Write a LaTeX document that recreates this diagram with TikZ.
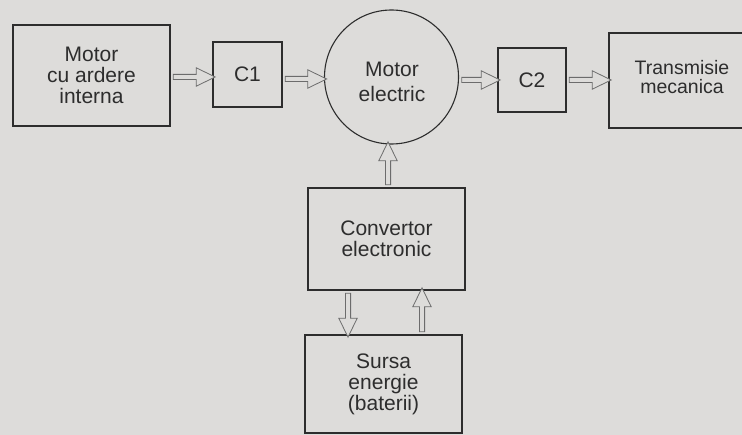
\documentclass[tikz,border=0pt]{standalone}
\usepackage{fontspec}
\setmainfont{Liberation Sans}
\usetikzlibrary{positioning,arrows.meta,calc,shapes.arrows}
\definecolor{paper}{RGB}{221,220,218}
\definecolor{ink}{RGB}{45,45,45}
\tikzset{
    blockbox/.style={draw=ink, line width=1.1pt, rectangle, align=center, text=ink,
        font=\fontsize{21}{21}\selectfont, inner sep=0pt},
    motorcircle/.style={draw=ink, line width=1.1pt, circle, minimum size=134pt, inner sep=0pt},
    boxtext/.style={text=ink, align=center, font=\fontsize{21}{25}\selectfont, inner sep=0pt},
    % hollow arrow: double shaft, open head
    flowarrow/.style={single arrow, draw=ink!70, line width=0.8pt, fill=paper,
        inner xsep=0pt, inner ysep=2.2pt, single arrow head extend=6.6pt,
        single arrow tip angle=52, single arrow head indent=0pt, outer sep=0pt},
}
% flow arrow from #1 to #2
\newcommand{\flowarrow}[2]{%
    \path let \p1=($(#2)-(#1)$), \n1={veclen(\x1,\y1)}, \n2={atan2(\y1,\x1)} in
        node[flowarrow, minimum height=\n1, rotate=\n2] at ($(#1)!0.5!(#2)$) {};}
\begin{document}
\begin{tikzpicture}[x=1pt, y=-1pt]
    \fill[paper] (0,0) rectangle (742,435);
    \useasboundingbox (0,0) rectangle (742,435);

    % Row 1: engine, clutches, electric motor, transmission
    \node[blockbox, minimum width=157pt, minimum height=101pt] (ice) at (91.5,75.5) {Motor\\cu ardere\\interna};
    \node[blockbox, minimum width=69pt, minimum height=65pt]   (c1)  at (247.5,74.5) {C1};
    \node[motorcircle] (em) at (391.5,77) {};
    \node[boxtext] (emtext) at (392,82) {Motor\\electric};
    \node[blockbox, minimum width=68pt, minimum height=64pt]   (c2)  at (532,80) {C2};
    \node[blockbox, minimum width=160pt, minimum height=95pt]  (tr)  at (689,80.5) {};
    \node[boxtext, font=\fontsize{19.5}{19}\selectfont] (trtext) at (682,77) {Transmisie\\mecanica};

    % Column: converter and battery
    \node[blockbox, minimum width=157pt, minimum height=102pt] (conv) at (386.5,239) {Convertor\\electronic};
    \node[blockbox, minimum width=157pt, minimum height=98pt]  (bat)  at (383.5,384) {Sursa\\energie\\(baterii)};

    % Power flow
    \flowarrow{ice.east |- 0,77}{c1.west |- 0,77}
    \flowarrow{c1.east |- 0,79}{em.west |- 0,79}
    \flowarrow{em.east |- 0,80}{c2.west |- 0,80}
    \flowarrow{c2.east |- 0,80}{tr.west |- 0,80}
    \flowarrow{conv.north -| 388,0}{em.south -| 388,0}
    \flowarrow{conv.south -| 348,0}{bat.north -| 348,0}
    \flowarrow{bat.north -| 422,0}{conv.south -| 422,0}
\end{tikzpicture}
\end{document}
